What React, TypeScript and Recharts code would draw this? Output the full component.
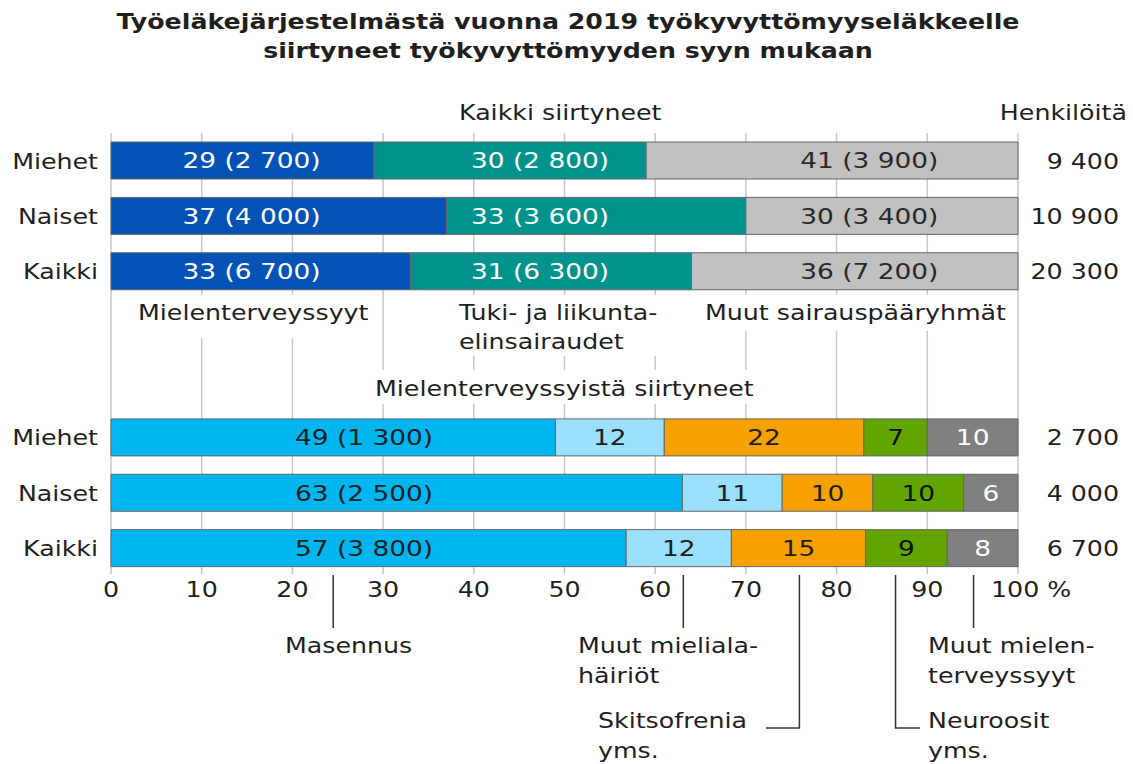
import { Bar, BarChart, CartesianGrid, LabelList, XAxis, YAxis } from 'recharts'

// --- data: Työeläkejärjestelmästä 2019 työkyvyttömyyseläkkeelle siirtyneet ---
const groups = ['Miehet', 'Naiset', 'Kaikki']

// Kaikki siirtyneet, % (henkilöitä)
const mentalPct = [29, 37, 33]
const musculoPct = [30, 33, 31]
const otherPct = [41, 30, 36]
const mentalCount = ['2 700', '4 000', '6 700']
const musculoCount = ['2 800', '3 600', '6 300']
const otherCount = ['3 900', '3 400', '7 200']
const totalAll = ['9 400', '10 900', '20 300']

// Mielenterveyssyistä siirtyneet, %
const depressionPct = [49, 63, 56.8]
const moodOtherPct = [12, 11, 11.6]
const schizoPct = [22, 10, 14.8]
const neurosisPct = [7, 10, 9]
const mentalOtherPct = [10, 6, 7.8]
const depressionLabel = ['49 (1 300)', '63 (2 500)', '57 (3 800)']
const moodOtherLabel = ['12', '11', '12']
const schizoLabel = ['22', '10', '15']
const neurosisLabel = ['7', '10', '9']
const mentalOtherLabel = ['10', '6', '8']
const totalMental = ['2 700', '4 000', '6 700']

const xTicks = [0, 10, 20, 30, 40, 50, 60, 70, 80, 90, 100]

const data = [
  ...groups.map((g, i) => ({
    key: `all-${i}`,
    name: g,
    total: totalAll[i],
    mental: mentalPct[i],
    mentalLabel: `${mentalPct[i]} (${mentalCount[i]})`,
    musculo: musculoPct[i],
    musculoLabel: `${musculoPct[i]} (${musculoCount[i]})`,
    other: otherPct[i],
    otherLabel: `${otherPct[i]} (${otherCount[i]})`,
  })),
  { key: 'gap-1', name: '', total: '' },
  { key: 'gap-2', name: '', total: '' },
  ...groups.map((g, i) => ({
    key: `mt-${i}`,
    name: g,
    total: totalMental[i],
    dep: depressionPct[i],
    depLabel: depressionLabel[i],
    mood: moodOtherPct[i],
    moodLabel: moodOtherLabel[i],
    schizo: schizoPct[i],
    schizoLabel: schizoLabel[i],
    neuro: neurosisPct[i],
    neuroLabel: neurosisLabel[i],
    mtOther: mentalOtherPct[i],
    mtOtherLabel: mentalOtherLabel[i],
  })),
]

// labelAt: the big labels sit in one column (in % units), not centred per bar
const series = [
  { key: 'mental', color: '#0452b5', text: '#ffffff', labelAt: 15.5 },
  { key: 'musculo', color: '#00938e', text: '#ffffff', labelAt: 47.3 },
  { key: 'other', color: '#c0c0c0', text: '#2a2a2a', labelAt: 83.6 },
  { key: 'dep', color: '#00b6f0', text: '#1e1e1e', labelAt: 27.9 },
  { key: 'mood', color: '#9be0fb', text: '#1e1e1e' },
  { key: 'schizo', color: '#f7a100', text: '#1e1e1e' },
  { key: 'neuro', color: '#62a400', text: '#111111' },
  { key: 'mtOther', color: '#808080', text: '#ffffff' },
]

const FONT = '"DejaVu Sans", Verdana, sans-serif'
const SX = 1.15
const INK = '#1f1f1f'

const W = 1133
const H = 764
const PLOT_LEFT = 111
const PLOT_RIGHT = 1018
const xPos = (v: number) => PLOT_LEFT + (v / 100) * (PLOT_RIGHT - PLOT_LEFT)

const nameOf = (key: string) => data.find((d) => d.key === key)?.name ?? ''
const totalOf = (key: string) => data.find((d) => d.key === key)?.total ?? ''

const SText = ({ x, y, anchor = 'start', size = 22, weight = 'normal', fill = INK, dy, sx = SX, children }: any) => (
  <text
    transform={`translate(${x},${y}) scale(${sx},1)`}
    textAnchor={anchor}
    fontSize={size}
    fontWeight={weight}
    fontFamily={FONT}
    fill={fill}
    dy={dy}
  >
    {children}
  </text>
)

const renderLabel = (fill: string, labelAt?: number) => (props: any) => {
  const { x, y, width, height, value } = props
  if (value === undefined || value === null || value === '') return null
  const cx = labelAt !== undefined ? xPos(labelAt) : x + width / 2
  return (
    <SText x={cx} y={y + height / 2} anchor="middle" dy="0.36em" fill={fill} sx={1.2}>
      {value}
    </SText>
  )
}

const LeftTick = ({ x, y, payload }: any) => (
  <SText x={x} y={y} anchor="end" dy="0.36em">{nameOf(payload.value)}</SText>
)

const RightTick = ({ x, y, payload }: any) => (
  <SText x={x + 101} y={y} anchor="end" dy="0.36em">{totalOf(payload.value)}</SText>
)

const XTick = ({ x, y, payload }: any) => (
  <g>
    <line x1={x} x2={x} y1={y - 9} y2={y - 2} stroke="#c4c4c4" strokeWidth={1.5} />
    {payload.value === 100 ? (
      <SText x={x - 27} y={y + 21}>100 %</SText>
    ) : (
      <SText x={x} y={y + 21} anchor="middle">{payload.value}</SText>
    )}
  </g>
)

// texts that sit over the grid get a white box behind them
const groupLabels = [
  { lines: ['Mielenterveyssyyt'], x: 138, box: [134, 295, 238, 43] },
  { lines: ['Tuki- ja liikunta-', 'elinsairaudet'], x: 459, box: [455, 295, 217, 61] },
  { lines: ['Muut sairauspääryhmät'], x: 705, box: [700, 295, 312, 36] },
]

const callouts = [
  { lines: ['Masennus'], tx: 285, ty: 653, at: 24.5, end: 628 },
  { lines: ['Muut mieliala-', 'häiriöt'], tx: 578, ty: 653, at: 63.1, end: 628 },
  { lines: ['Skitsofrenia', 'yms.'], tx: 598, ty: 728, at: 75.9, end: 728, elbow: 766 },
  { lines: ['Neuroosit', 'yms.'], tx: 928, ty: 728, at: 86.5, end: 728, elbow: 920 },
  { lines: ['Muut mielen-', 'terveyssyyt'], tx: 928, ty: 653, at: 95.1, end: 628 },
]

const Overlay = () => (
  <svg width={W} height={H} style={{ position: 'absolute', left: 0, top: 0, pointerEvents: 'none' }}>
    <SText x={568} y={29} anchor="middle" size={22} weight="bold">Työeläkejärjestelmästä vuonna 2019 työkyvyttömyyseläkkeelle</SText>
    <SText x={568} y={58} anchor="middle" size={22} weight="bold">siirtyneet työkyvyttömyyden syyn mukaan</SText>
    <SText x={459} y={120}>Kaikki siirtyneet</SText>
    <SText x={1127} y={120} anchor="end">Henkilöitä</SText>
    {groupLabels.map((g) => (
      <g key={g.lines[0]}>
        <rect x={g.box[0]} y={g.box[1]} width={g.box[2]} height={g.box[3]} fill="#fff" />
        {g.lines.map((l, i) => (
          <SText key={l} x={g.x} y={320 + i * 29}>{l}</SText>
        ))}
      </g>
    ))}
    <rect x={370} y={370} width={388} height={34} fill="#fff" />
    <SText x={375} y={396}>Mielenterveyssyistä siirtyneet</SText>
    {callouts.map((c) => {
      const lx = xPos(c.at)
      return (
        <g key={c.lines[0]}>
          <polyline
            points={c.elbow ? `${lx},575 ${lx},${c.end} ${c.elbow},${c.end}` : `${lx},575 ${lx},${c.end}`}
            fill="none"
            stroke="#333"
            strokeWidth={1.5}
          />
          {c.lines.map((l, i) => (
            <SText key={l + i} x={c.tx} y={c.ty + i * 30}>{l}</SText>
          ))}
        </g>
      )
    })}
  </svg>
)

export default function App() {
  return (
    <div style={{ position: 'absolute', left: 0, top: 0, width: W, height: H, background: '#fff' }}>
      <BarChart
        width={W}
        height={H}
        data={data}
        layout="vertical"
        barSize={37}
        margin={{ top: 133, right: 0, bottom: 158, left: 0 }}
      >
        <CartesianGrid horizontal={false} stroke="#c8c8c8" strokeWidth={1.5} y={133} height={434} />
        <XAxis
          type="number"
          domain={[0, 100]}
          ticks={xTicks}
          interval={0}
          axisLine={false}
          tickLine={false}
          tickSize={0}
          tickMargin={0}
          height={30}
          tick={XTick}
        />
        <YAxis
          yAxisId="left"
          type="category"
          dataKey="key"
          width={111}
          interval={0}
          axisLine={false}
          tickLine={false}
          tickSize={0}
          tickMargin={13}
          tick={LeftTick}
        />
        <YAxis
          yAxisId="right"
          orientation="right"
          type="category"
          dataKey="key"
          width={115}
          interval={0}
          axisLine={false}
          tickLine={false}
          tickSize={0}
          tickMargin={0}
          tick={RightTick}
        />
        {series.map((s) => (
          <Bar
            key={s.key}
            dataKey={s.key}
            stackId="a"
            yAxisId="left"
            fill={s.color}
            stroke="#666"
            strokeWidth={1}
            isAnimationActive={false}
          >
            <LabelList dataKey={`${s.key}Label`} content={renderLabel(s.text, s.labelAt)} />
          </Bar>
        ))}
      </BarChart>
      <Overlay />
    </div>
  )
}
